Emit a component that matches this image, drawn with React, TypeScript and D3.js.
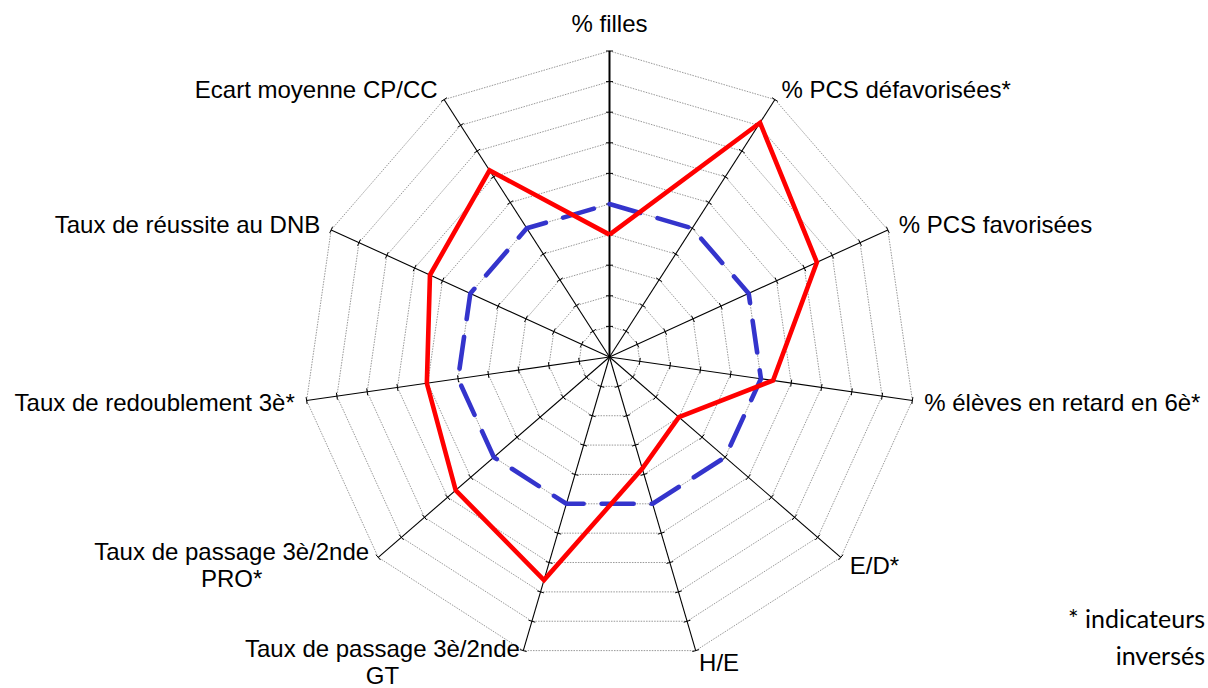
import React, { useEffect, useRef } from "react";
import * as d3 from "d3";

const categories: string[][] = [
  ["% filles"],
  ["% PCS défavorisées*"],
  ["% PCS favorisées"],
  ["% élèves en retard en 6è*"],
  ["E/D*"],
  ["H/E"],
  ["Taux de passage 3è/2nde", "GT"],
  ["Taux de passage 3è/2nde", "PRO*"],
  ["Taux de redoublement 3è*"],
  ["Taux de réussite au DNB"],
  ["Ecart moyenne CP/CC"],
];

const seriesEtab: number[] = [4.0, 9.1, 7.45, 5.4, 3.0, 3.8, 7.6, 6.65, 6.03, 6.45, 7.25];
const seriesRef: number[] = [5, 5, 5, 5, 5, 5, 5, 5, 5, 5, 5];
const ringValues: number[] = [1, 2, 3, 4, 5, 6, 7, 8, 9, 10];
const footnote: string[] = ["* indicateurs", "inversés"];

const W = 1208;
const H = 688;
const CX = 609.5;
const CY = 357;
const R = 306;

export default function App() {
  const ref = useRef<SVGSVGElement | null>(null);

  useEffect(() => {
    const svg = d3.select(ref.current);
    svg.selectAll("*").remove();
    const n = categories.length;
    const r = d3.scaleLinear().domain([0, 10]).range([0, R]);
    const ang = d3.scaleLinear().domain([0, n]).range([0, 2 * Math.PI]);
    const pt = (i: number, v: number): [number, number] => {
      const a = ang(i);
      return [CX + r(v) * Math.sin(a), CY - r(v) * Math.cos(a)];
    };
    const g = svg.append("g");

    // rings
    ringValues.forEach((v) => {
      const pts = d3.range(n).map((i) => pt(i, v));
      g.append("path")
        .attr("d", d3.line()(pts.concat([pts[0]])) as string)
        .attr("fill", "none")
        .attr("stroke", "#8c8c8c")
        .attr("stroke-width", 0.9)
        .attr("stroke-dasharray", "1.5 1.2");
    });

    // axes + ticks
    d3.range(n).forEach((i) => {
      const [x1, y1] = pt(i, 10);
      g.append("line")
        .attr("x1", CX).attr("y1", CY).attr("x2", x1).attr("y2", y1)
        .attr("stroke", "#000")
        .attr("stroke-width", i === 0 ? 2 : 1.1);
      const a = ang(i);
      const px = Math.cos(a), py = Math.sin(a);
      ringValues.forEach((v) => {
        const [x, y] = pt(i, v);
        g.append("line")
          .attr("x1", x - px * 3.5).attr("y1", y - py * 3.5)
          .attr("x2", x + px * 3.5).attr("y2", y + py * 3.5)
          .attr("stroke", "#000").attr("stroke-width", 1);
      });
    });

    // series
    const ptsRef = seriesRef.map((v, i) => pt(i, v));
    g.append("path")
      .attr("d", d3.line()(ptsRef.concat([ptsRef[0]])) as string)
      .attr("fill", "none")
      .attr("stroke", "#3434CC")
      .attr("stroke-width", 4.6)
      .attr("stroke-linecap", "round")
      .attr("stroke-linejoin", "round")
      .attr("stroke-dasharray", "32 18");

    const ptsEtab = seriesEtab.map((v, i) => pt(i, v));
    g.append("path")
      .attr("d", d3.line()(ptsEtab.concat([ptsEtab[0]])) as string)
      .attr("fill", "none")
      .attr("stroke", "#FF0000")
      .attr("stroke-width", 4.6)
      .attr("stroke-linejoin", "miter");

    // labels
    const fontFam = "'Liberation Sans', Arial, sans-serif";
    categories.forEach((lines, i) => {
      const [lx, ly] = pt(i, 10 + 12 / R * 10);
      const t = g.append("text")
        .attr("font-family", fontFam)
        .attr("font-size", 24)
        .attr("fill", "#000");
      if (i === 0) {
        t.attr("x", lx).attr("y", 32).attr("text-anchor", "middle").text(lines[0]);
        return;
      }
      const right = i <= 5;
      const lh = 27;
      const y0 = ly - ((lines.length - 1) * lh) / 2;
      if (lines.length === 1) {
        t.attr("x", lx).attr("y", y0).attr("dy", "0.35em")
          .attr("text-anchor", right ? "start" : "end").text(lines[0]);
      } else {
        const tmp = g.append("text").attr("font-family", fontFam).attr("font-size", 24).text(lines[0]);
        const w = (tmp.node() as SVGTextElement).getComputedTextLength();
        tmp.remove();
        const mx = right ? lx + w / 2 : lx - w / 2;
        lines.forEach((s, k) => {
          t.append("tspan").attr("x", mx).attr("y", y0 + k * lh).attr("dy", "0.35em")
            .attr("text-anchor", "middle").text(s);
        });
      }
    });

    // footnote
    footnote.forEach((s, k) => {
      g.append("text")
        .attr("x", 1205).attr("y", 628 + k * 37)
        .attr("text-anchor", "end")
        .attr("font-family", "Lato, 'Open Sans', sans-serif")
        .attr("font-size", 25)
        .attr("fill", "#000")
        .text(s);
    });
  }, []);

  return (
    <svg
      ref={ref}
      width={W}
      height={H}
      style={{ position: "absolute", left: 0, top: 0, display: "block", background: "#fff" }}
    />
  );
}
